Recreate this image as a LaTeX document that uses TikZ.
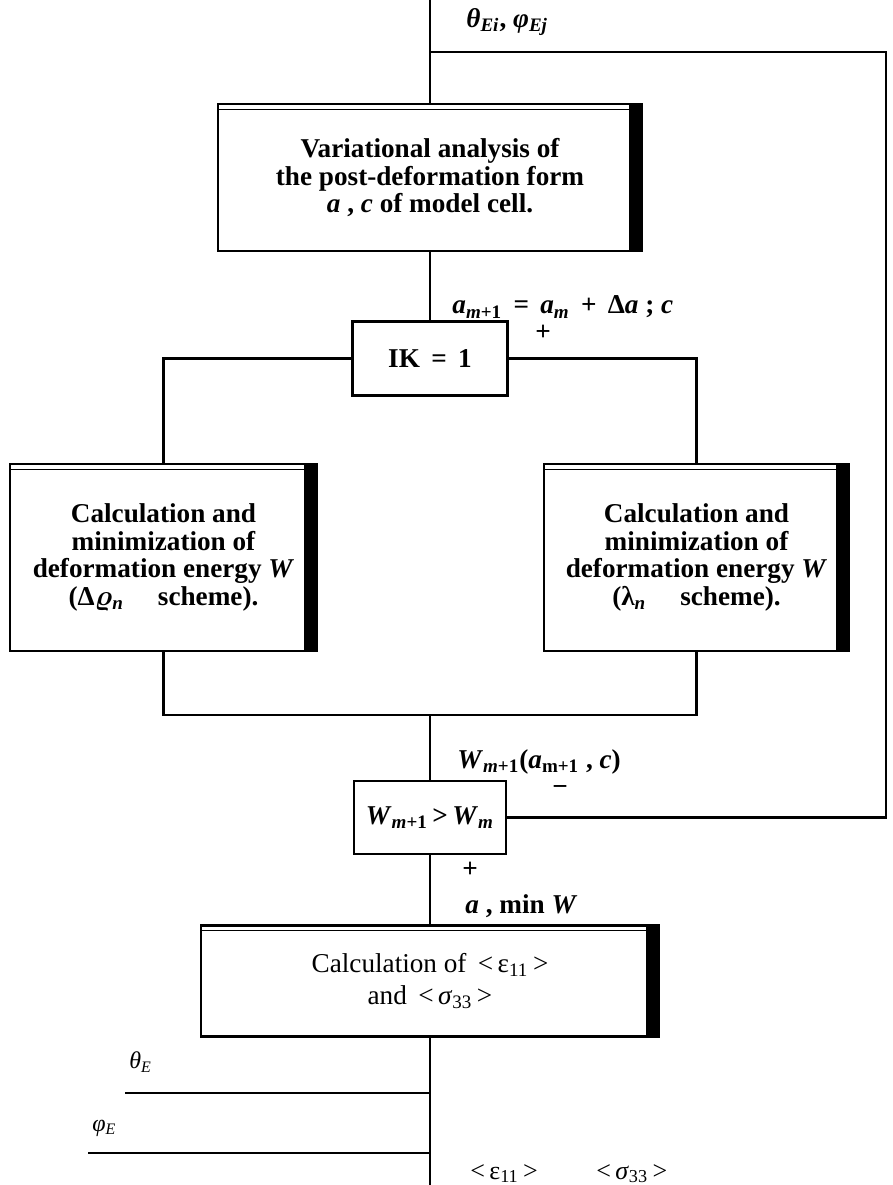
\documentclass[tikz,border=0pt]{standalone}
\usepackage{amsmath}
\usepackage{fontspec}
\setmainfont{Liberation Serif}
\usetikzlibrary{positioning}
\tikzset{
  % framed block with heavy right edge and doubled top
  blockbox/.style={
    rectangle, draw, line width=1.2pt, align=center, inner sep=2pt,
    font=\fontsize{13.6pt}{13.8pt}\selectfont\bfseries,
    path picture={
      \fill ([xshift=-6.5pt]path picture bounding box.north east) rectangle (path picture bounding box.south east);
      \draw[line width=0.6pt] ([yshift=-2.6pt]path picture bounding box.north west) -- ([xshift=-6.5pt,yshift=-2.6pt]path picture bounding box.north east);
    }
  },
  testbox/.style={
    rectangle, draw, line width=1.2pt, minimum width=77.5pt, minimum height=37pt,
    font=\fontsize{13.6pt}{14pt}\selectfont\bfseries
  },
  conn/.style={line width=1.2pt},
  inconn/.style={line width=0.9pt},
  lbl/.style={font=\fontsize{13.6pt}{14pt}\selectfont\bfseries, inner sep=0pt},
  inlbl/.style={font=\fontsize{12pt}{14pt}\selectfont, inner sep=0pt},
  sign/.style={font=\fontsize{13.6pt}{14pt}\selectfont\bfseries, inner sep=0pt}
}

\begin{document}
\begin{tikzpicture}
  \useasboundingbox (0,0) rectangle (446.5pt,-592.5pt);
  \coordinate (topin) at (215pt,0);

  % Variational analysis
  \node[blockbox, minimum width=212pt, minimum height=73.5pt, below=51.5pt of topin] (varbox)
    {Variational analysis of\\the post-deformation form\\\textit{a} , \textit{c} of model cell.};

  % IK test
  \node[testbox, below=34pt of varbox] (ikbox) {IK \,=\, 1};

  % the two minimization schemes
  \node[blockbox, minimum width=153.5pt, minimum height=93.5pt, below=33pt of ikbox, xshift=-133.25pt] (leftcalc)
    {Calculation and\\minimization of\\deformation energy \textit{W}\\(Δ$\boldsymbol{\varrho}$\textsubscript{\textit{n}}\quad\ scheme).};
  \node[blockbox, minimum width=152.5pt, minimum height=93.5pt, below=33pt of ikbox, xshift=133.25pt] (rightcalc)
    {Calculation and\\minimization of\\deformation energy \textit{W}\\(λ\textsubscript{\textit{n}}\quad\ scheme).};

  % energy comparison
  \node[testbox, minimum width=76pt, minimum height=36.5pt, below=191.5pt of ikbox] (cmpbox)
    {\textit{W}\textsubscript{\textit{m}+1}\,\textgreater\,\textit{W}\textsubscript{\textit{m}}};

  % final calculation
  \node[blockbox, minimum width=229pt, minimum height=55.5pt, below=34.5pt of cmpbox,
        font=\fontsize{13.6pt}{16pt}\selectfont] (resbox)
    {Calculation of \,\textless\,ε\textsubscript{11}\,\textgreater\\and \,\textless\,\textit{σ}\textsubscript{33}\,\textgreater};

  % helper points
  \coordinate[below=26pt of topin] (fbjoin);
  \coordinate[right=228pt of fbjoin] (fbcorner);
  \coordinate[above=32.5pt of cmpbox.north] (merge);
  \coordinate[below=27.5pt of resbox.south] (jtheta);
  \coordinate[below=57.5pt of resbox.south] (jphi);
  \coordinate[left=152.5pt of jtheta] (thetastart);
  \coordinate[left=171pt of jphi] (phistart);
  \coordinate[below=77pt of resbox.south] (outend);

  % connectors
  \draw[conn] (topin) -- (varbox.north);
  \draw[conn] (varbox.south) -- (ikbox.north);
  \draw[conn] (ikbox.west) -| (leftcalc.north);
  \draw[conn] (ikbox.east) -| (rightcalc.north);
  \draw[conn] (leftcalc.south) |- (merge) -| (rightcalc.south);
  \draw[conn] (merge) -- (cmpbox.north);
  \draw[conn] (cmpbox.east) -| (fbcorner) -- (fbjoin);
  \draw[conn] (cmpbox.south) -- (resbox.north);
  \draw[conn] (resbox.south) -- (outend);
  \draw[inconn] (thetastart) -- (jtheta);
  \draw[inconn] (phistart) -- (jphi);

  % labels
  \node[lbl, below right=4pt and 18pt of topin] (anglbl)
    {\textit{θ}\textsubscript{\textit{Ei}}, \textit{φ}\textsubscript{\textit{Ej}}};
  \node[lbl, above right=1pt and 11pt of ikbox.north] (eqlbl)
    {\textit{a}\textsubscript{\textit{m}+1} \,=\, \textit{a}\textsubscript{\textit{m}} \,+\, Δ\textit{a} ; \textit{c}};
  \node[sign] (plusik) at ([xshift=56.5pt,yshift=-6pt]ikbox.north) {+};
  \node[lbl, above right=2.5pt and 13.5pt of cmpbox.north] (wlbl)
    {\textit{W}\textsubscript{\textit{m}+1}(\textit{a}\textsubscript{m+1} , \textit{c})};
  \node[sign] (minuscmp) at ([xshift=65pt,yshift=-5.5pt]cmpbox.north) {−};
  \node[sign] (pluscmp) at ([xshift=20pt,yshift=-7.5pt]cmpbox.south) {+};
  \node[lbl, above right=3pt and 17.5pt of resbox.north] (minlbl) {\textit{a} , min \textit{W}};
  \node[inlbl, above right=10pt and 2pt of thetastart] (thetalbl) {\textit{θ}\textsubscript{\textit{E}}};
  \node[inlbl, above right=8pt and 2pt of phistart] (philbl) {\textit{φ}\textsubscript{\textit{E}}};
  \node[inlbl, font=\fontsize{13pt}{14pt}\selectfont, right=20pt of outend, yshift=9pt] (outlbl)
    {\textless\,ε\textsubscript{11}\,\textgreater\qquad\ \textless\,\textit{σ}\textsubscript{33}\,\textgreater};
\end{tikzpicture}
\end{document}
